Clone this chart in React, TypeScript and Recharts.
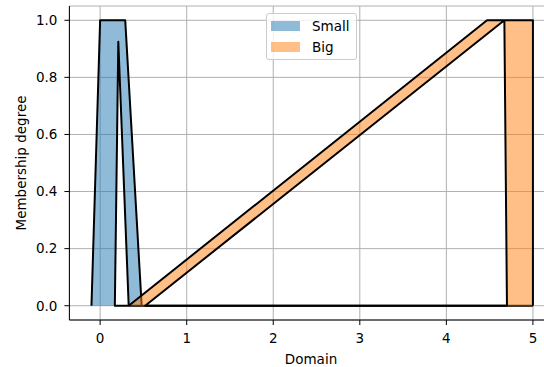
import { Area, CartesianGrid, ComposedChart, Legend, XAxis, YAxis } from "recharts";

// Outline of each membership polygon, in drawing order.
const smallX = [-0.1, 0, 0.29, 0.48, 0.33, 0.21, 0.17, 5];
const smallY = [0, 1, 1, 0, 0, 0.925, 0, 0];
const bigX = [0.33, 4.47, 4.67, 0.52, 4.7, 4.67, 5, 5];
const bigY = [0, 1, 1, 0, 0, 1, 1, 0];

const xTicks = [0, 1, 2, 3, 4, 5];
const yTicks = [0, 0.2, 0.4, 0.6, 0.8, 1];

const seriesNames = ["Small", "Big"];
const seriesColors = ["#1f77b4", "#ff7f0e"];

const toPoints = (xs: number[], ys: number[]) => xs.map((x, i) => ({ x, y: ys[i] }));
const smallData = toPoints(smallX, smallY);
const bigData = toPoints(bigX, bigY);

const font = "'DejaVu Sans', sans-serif";
const tick = { fill: "#000", fontSize: 13.5, fontFamily: font };

function LegendBox() {
	return (
		<div
			style={{
				position: "relative",
				boxSizing: "border-box",
				width: 91,
				height: 47,
				border: "1px solid #cccccc",
				borderRadius: 3,
				background: "rgba(255,255,255,0.8)",
				fontFamily: font,
				fontSize: 13.5,
				lineHeight: "13.5px",
				color: "#000",
			}}
		>
			{seriesNames.map((name, i) => (
				<div key={name}>
					<div
						style={{
							position: "absolute",
							left: 4,
							top: 7 + i * 21,
							width: 29,
							height: 10,
							background: seriesColors[i],
							opacity: 0.5,
						}}
					/>
					<div style={{ position: "absolute", left: 45, top: 5.5 + i * 21 }}>{name}</div>
				</div>
			))}
		</div>
	);
}

export default function App() {
	return (
		<div style={{ position: "absolute", left: 0, top: 0, width: 544, height: 367, overflow: "hidden", background: "#fff" }}>
			<ComposedChart width={560} height={367} margin={{ top: 6, right: 5, bottom: 0, left: 0 }}>
				<CartesianGrid stroke="#b0b0b0" strokeWidth={1} />
				<XAxis
					dataKey="x"
					type="number"
					domain={[-0.355, 5.255]}
					allowDataOverflow
					ticks={xTicks}
					height={47}
					tick={tick}
					tickSize={5}
					tickMargin={8}
					stroke="#000"
					label={{
						content: () => (
							<text x={311} y={363.5} textAnchor="middle" fontFamily={font} fontSize={13.5} fill="#000">
								Domain
							</text>
						),
					}}
				/>
				<XAxis
					xAxisId="top"
					orientation="top"
					dataKey="x"
					type="number"
					domain={[-0.355, 5.255]}
					allowDataOverflow
					height={0}
					tick={false}
					tickLine={false}
					stroke="#000"
				/>
				<YAxis
					type="number"
					domain={[-0.05, 1.05]}
					allowDataOverflow
					ticks={yTicks}
					width={69.4}
					tick={tick}
					tickSize={5}
					tickMargin={7}
					stroke="#000"
					tickFormatter={(v: number) => v.toFixed(1)}
					label={{
						content: () => (
							<text
								x={26}
								y={163}
								transform="rotate(-90 26 163)"
								textAnchor="middle"
								fontFamily={font}
								fontSize={13.5}
								fill="#000"
							>
								Membership degree
							</text>
						),
					}}
				/>
				<Legend
					layout="vertical"
					align="center"
					verticalAlign="middle"
					content={() => <LegendBox />}
					wrapperStyle={{ top: 13, left: 266, width: 91, height: 47 }}
				/>
				<Area
					data={smallData}
					dataKey="y"
					name="Small"
					type="linear"
					baseValue={0}
					stroke="#000"
					strokeWidth={2}
					strokeLinejoin="round"
					fill={seriesColors[0]}
					fillOpacity={0.5}
					dot={false}
					activeDot={false}
					isAnimationActive={false}
				/>
				<Area
					data={bigData}
					dataKey="y"
					name="Big"
					type="linear"
					baseValue={0}
					stroke="#000"
					strokeWidth={2}
					strokeLinejoin="round"
					fill={seriesColors[1]}
					fillOpacity={0.5}
					dot={false}
					activeDot={false}
					isAnimationActive={false}
				/>
			</ComposedChart>
		</div>
	);
}
